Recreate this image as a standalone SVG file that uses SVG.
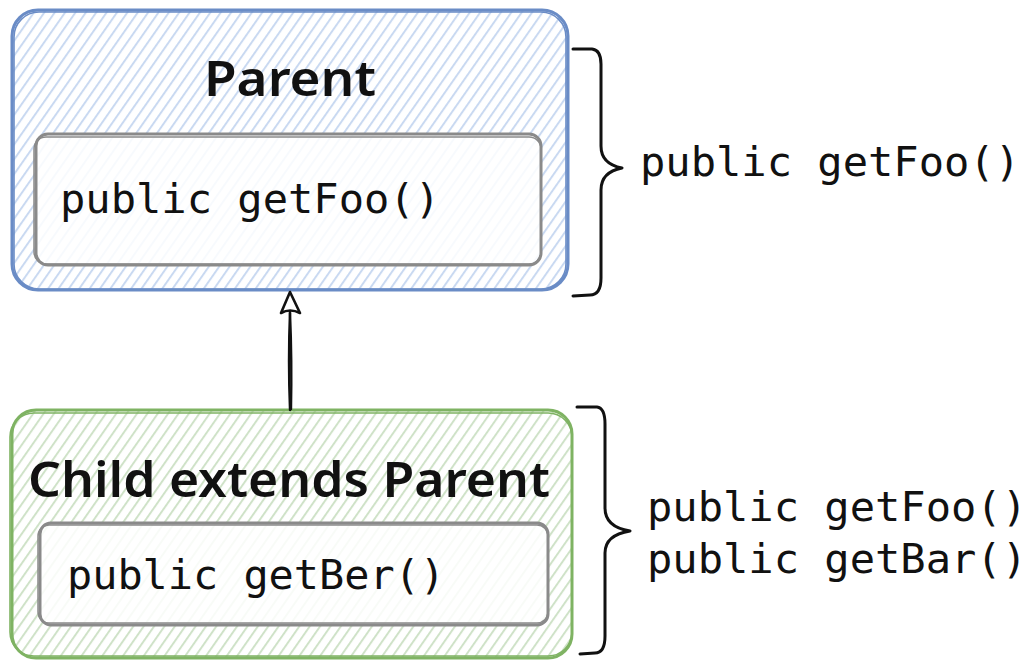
<svg xmlns="http://www.w3.org/2000/svg" width="1033" height="660" viewBox="0 0 1033 660">
  <defs>
    <pattern id="hatch-blue" width="8.5" height="8.5" patternUnits="userSpaceOnUse" patternTransform="rotate(35)">
      <line x1="1" y1="0" x2="1" y2="8.5" stroke="#c9d9f1" stroke-width="2"/>
    </pattern>
    <pattern id="hatch-green" width="8.5" height="8.5" patternUnits="userSpaceOnUse" patternTransform="rotate(35)">
      <line x1="1" y1="0" x2="1" y2="8.5" stroke="#cfe2c8" stroke-width="2"/>
    </pattern>
  </defs>
  <style>
    .title { font-family: "Noto Sans", "DejaVu Sans", sans-serif; font-weight: 600; fill: #111; }
    .code { font-family: "DejaVu Sans Mono", "Liberation Mono", monospace; font-size: 40px; fill: #111; }
    .outer-blue { fill: url(#hatch-blue); stroke: #6a8cc6; stroke-width: 3; }
    .outer-green { fill: url(#hatch-green); stroke: #7fb363; stroke-width: 3; }
    .sketch-blue { fill: none; stroke: #6a8cc6; stroke-width: 1.6; }
    .sketch-green { fill: none; stroke: #7fb363; stroke-width: 1.6; }
    .inner { fill: #ffffff; fill-opacity: 0.85; stroke: #8a8a8a; stroke-width: 3; }
    .inner-sketch { fill: none; stroke: #8a8a8a; stroke-width: 1.5; }
    .brace { fill: none; stroke: #111; stroke-width: 3; stroke-linecap: round; stroke-linejoin: round; }
    .edge { fill: none; stroke: #111; stroke-width: 2.4; stroke-linecap: round; }
    .head { fill: #ffffff; stroke: #111; stroke-width: 2.6; stroke-linejoin: round; }
  </style>

  <rect width="1033" height="660" fill="#ffffff"/>

  <!-- class Parent -->
  <g id="parent">
    <rect class="outer-blue" x="12" y="10" width="556" height="280" rx="26"/>
    <rect class="sketch-blue" x="14" y="12" width="552" height="277" rx="25"/>
    <rect class="inner" x="36" y="134" width="505" height="131" rx="12"/>
    <rect class="inner-sketch" x="34" y="137" width="507" height="127" rx="12"/>
    <text class="title" x="290" y="96" font-size="48" text-anchor="middle" textLength="172" lengthAdjust="spacingAndGlyphs">Parent</text>
    <text class="code" x="60" y="213" textLength="380" lengthAdjust="spacingAndGlyphs">public getFoo()</text>
  </g>

  <!-- class Child -->
  <g id="child">
    <rect class="outer-green" x="12" y="410" width="560" height="248" rx="24"/>
    <rect class="sketch-green" x="10" y="413" width="562" height="243" rx="24"/>
    <rect class="inner" x="40" y="523" width="508" height="102" rx="11"/>
    <rect class="inner-sketch" x="38" y="525" width="510" height="98" rx="11"/>
    <text class="title" x="289" y="497" font-size="48" text-anchor="middle" textLength="522" lengthAdjust="spacingAndGlyphs">Child extends Parent</text>
    <text class="code" x="67" y="589" textLength="378" lengthAdjust="spacingAndGlyphs">public getBer()</text>
  </g>

  <!-- members visible on Parent -->
  <g id="parent-members">
    <path class="brace" d="M573 49 L592 49 Q601 50 601 64 L601 146 Q601 164 622 168 Q601 172 601 190 L601 278 Q601 295 590 295 L573 296"/>
    <text class="code" x="640" y="176" textLength="380" lengthAdjust="spacingAndGlyphs">public getFoo()</text>
  </g>

  <!-- members visible on Child -->
  <g id="child-members">
    <path class="brace" d="M577 407 L597 407 Q605 408 605 424 L605 508 Q605 527 630 531 Q605 535 605 553 L605 636 Q605 653 595 653 L580 654"/>
    <text class="code" x="647" y="521" textLength="380" lengthAdjust="spacingAndGlyphs">public getFoo()</text>
    <text class="code" x="647" y="573" textLength="380" lengthAdjust="spacingAndGlyphs">public getBar()</text>
  </g>

  <!-- inheritance arrow (hollow triangle head) -->
  <g id="connectors">
    <path class="edge" d="M290 410 Q288 360 290 312"/>
    <path class="edge" stroke-width="1.4" d="M291 409 Q292 360 290 313"/>
    <path class="head" d="M290 292 L300 313 Q290 308 281 313 Z"/>
  </g>
</svg>
